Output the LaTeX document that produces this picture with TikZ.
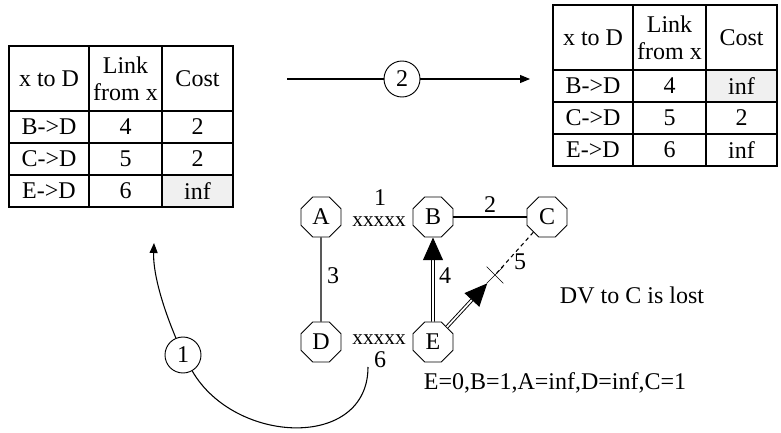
\documentclass[tikz,border=0pt]{standalone}
\usepackage{fontspec}
\setmainfont{Liberation Serif}
\usepackage{xcolor}
\usetikzlibrary{calc}
\usetikzlibrary{arrows.meta, positioning, shapes.geometric, shapes.misc}

\begin{document}
\begin{tikzpicture}[x=0.75pt, y=-0.75pt, font=\fontsize{18}{20.5}\selectfont,
    router/.style={draw, regular polygon, regular polygon sides=8, minimum size=32.5pt, inner sep=0pt, line width=0.7pt, fill=white},
    stepcirc/.style={draw, circle, minimum size=27pt, inner sep=0pt, line width=0.7pt, fill=white},
    cell/.style={line width=0.8pt},
    infcell/.style={fill=black!6},
    link/.style={line width=0.8pt},
    lbl/.style={inner sep=1pt},
    cutmark/.style={font=\fontsize{16}{18}\selectfont, inner sep=1pt},
    tip/.style={-{Triangle[length=7.5pt, width=6pt]}},
    dv/.style={double, double distance=1.3pt, line width=0.7pt, -{Triangle[length=17pt, width=15pt]}}]
  \useasboundingbox (0,0) rectangle (781,432);

  % the two distance vector tables
  \foreach \tn/\tx/\ty/\sh/\cb/\cc/\ce in {L/9/46/3/2/2/inf, R/553/5/1/inf/2/inf}{
    \begin{scope}[shift={(\tx,\ty)}]
      \pgfmathtruncatemacro{\shy}{65+32*(\sh-1)}
      \fill[infcell] (153,\shy) rectangle (224,\shy+32);
      \draw[cell] (0,0) rectangle (224,161);
      \foreach \cx in {80,153} \draw[cell] (\cx,0) -- (\cx,161);
      \foreach \ry in {65,97,129} \draw[cell] (0,\ry) -- (224,\ry);

      \node (\tn-to)   at (40,32.5)    {x to D};
      \node[align=center] (\tn-link) at (116.5,32.5) {Link\\from x};
      \node (\tn-cost) at (188.5,32.5)  {Cost};
      \foreach \r/\dst/\lk/\cs in {1/B/4/\cb, 2/C/5/\cc, 3/E/6/\ce}{
        \node (\tn-d\r) at (40,49+32*\r)    {\dst->D};
        \node (\tn-l\r) at (116.5,49+32*\r) {\lk};
        \node (\tn-c\r) at (188.5,49+32*\r) {\cs};
      }
    \end{scope}
  }

  % step 2
  \coordinate (a2from) at (287,79);
  \coordinate (a2to)   at (530,79);
  \node[stepcirc] (s2) at (402,79) {2};
  \draw[link] (a2from) -- (s2);
  \draw[link, tip] (s2) -- (a2to);

  % routers
  \node[router] (A) at (321,217) {A};
  \node[router] (B) at (433,217) {B};
  \node[router] (C) at (547,217) {C};
  \node[router] (D) at (321,342) {D};
  \node[router] (E) at (433,342) {E};

  \draw[link] (A) -- (D);
  \draw[link] (B) -- (C);
  \node[cutmark] (xAB) at (379,222) {xxxxx};
  \node[cutmark] (xDE) at (379,340) {xxxxx};
  \node[lbl] (w1) at (380,198) {1};
  \node[lbl] (w2) at (490,205) {2};
  \node[lbl] (w3) at (333,276) {3};
  \node[lbl] (w4) at (445,276) {4};
  \node[lbl] (w5) at (520,262) {5};
  \node[lbl] (w6) at (380,360) {6};

  % link 5 is cut
  \node[cross out, draw, minimum size=12pt, inner sep=0pt, line width=0.5pt] (cut) at (495,275) {};
  \draw[link, dashed, dash pattern=on 3pt off 2.5pt] (C) -- (cut.center);
  \draw[dv] (E) -- (B);
  \draw[dv] (E) -- (cut);

  \node (lostmsg) at (632,295) {DV to C is lost};
  \node (eview)   at (555,383) {E=0,B=1,A=inf,D=inf,C=1};

  % step 1
  \coordinate (from6) at (368,367);
  \coordinate (back)  at (154,243);
  \node[stepcirc] (s1) at (183,355) {1};
  \draw[link] (from6) .. controls (368,450) and (235,445) .. (s1);
  \draw[link, tip] (s1) .. controls (160,300) and (153,270) .. (back);
\end{tikzpicture}
\end{document}
